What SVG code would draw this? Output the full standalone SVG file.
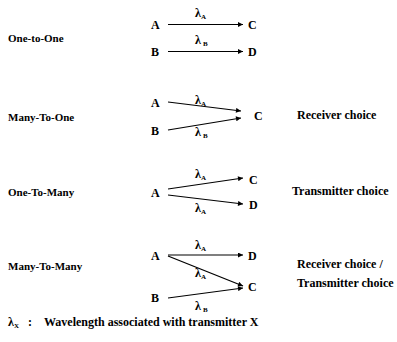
<svg xmlns="http://www.w3.org/2000/svg" width="397" height="342" viewBox="0 0 397 342">
<defs>
<marker id="ah" viewBox="0 0 10 10" refX="10" refY="5" markerWidth="6" markerHeight="5" orient="auto" markerUnits="userSpaceOnUse">
<path d="M0,0 L10,5 L0,10 z" fill="#000"/>
</marker>
<style>
text{font-family:"Liberation Serif","Times New Roman",serif;font-weight:bold;fill:#000}
.lbl{font-size:11px}
.n{font-size:12px}
.l{font-size:12px}
.s{font-size:7px}
.c line{stroke:#000;stroke-width:1.2;marker-end:url(#ah)}
</style>
</defs>
<rect width="397" height="342" fill="#fff"/>

<g id="row1">
<text class="lbl" x="8" y="42">One-to-One</text>
<g id="r1A"><text class="n" x="151" y="29">A</text></g>
<g id="r1B"><text class="n" x="151" y="56">B</text></g>
<g id="r1C"><text class="n" x="248" y="29">C</text></g>
<g id="r1D"><text class="n" x="248" y="56">D</text></g>
</g>

<g id="row2">
<text class="lbl" x="8" y="121">Many-To-One</text>
<g id="r2A"><text class="n" x="151" y="107">A</text></g>
<g id="r2B"><text class="n" x="151" y="135">B</text></g>
<g id="r2C"><text class="n" x="254" y="120">C</text></g>
<text class="l" x="297" y="119">Receiver choice</text>
</g>

<g id="row3">
<text class="lbl" x="8" y="196">One-To-Many</text>
<g id="r3A"><text class="n" x="151" y="197">A</text></g>
<g id="r3C"><text class="n" x="249" y="184">C</text></g>
<g id="r3D"><text class="n" x="249" y="209">D</text></g>
<text class="l" x="292" y="195">Transmitter choice</text>
</g>

<g id="row4">
<text class="lbl" x="8" y="270">Many-To-Many</text>
<g id="r4A"><text class="n" x="151" y="260">A</text></g>
<g id="r4B"><text class="n" x="151" y="302">B</text></g>
<g id="r4D"><text class="n" x="248" y="260">D</text></g>
<g id="r4C"><text class="n" x="248" y="291">C</text></g>
<text class="l" x="297" y="268">Receiver choice /</text>
<text class="l" x="297" y="287">Transmitter  choice</text>
</g>

<g id="connectors" class="c">
<line x1="168" y1="24.5" x2="243" y2="24.5"/>
<line x1="168" y1="51.5" x2="243" y2="51.5"/>
<line x1="168" y1="102" x2="241" y2="111"/>
<line x1="168" y1="130" x2="241" y2="118"/>
<line x1="168" y1="189" x2="243" y2="178"/>
<line x1="168" y1="195" x2="243" y2="204"/>
<line x1="168" y1="255" x2="243" y2="255"/>
<line x1="168" y1="256" x2="243" y2="286"/>
<line x1="168" y1="298" x2="243" y2="288"/>
</g>

<g id="wl">
<text x="195" y="17" font-size="12">λ<tspan class="s" dy="2">A</tspan></text>
<text x="195" y="44" font-size="12">λ<tspan class="s" dx="2" dy="2">B</tspan></text>
<text x="195" y="104" font-size="12">λ<tspan class="s" dy="2">A</tspan></text>
<text x="195" y="136" font-size="12">λ<tspan class="s" dx="2" dy="2">B</tspan></text>
<text x="195" y="178" font-size="12">λ<tspan class="s" dy="2">A</tspan></text>
<text x="195" y="212" font-size="12">λ<tspan class="s" dy="2">A</tspan></text>
<text x="195" y="249" font-size="12">λ<tspan class="s" dy="2">A</tspan></text>
<text x="195" y="277" font-size="12">λ<tspan class="s" dy="2">A</tspan></text>
<text x="195" y="310" font-size="12">λ<tspan class="s" dx="2" dy="2">B</tspan></text>
</g>

<g id="legend">
<text x="8" y="326" font-size="12">λ<tspan class="s" dy="2">X</tspan></text>
<text class="l" x="28" y="326">:</text>
<text class="l" x="44" y="326">Wavelength associated with transmitter X</text>
</g>
</svg>
